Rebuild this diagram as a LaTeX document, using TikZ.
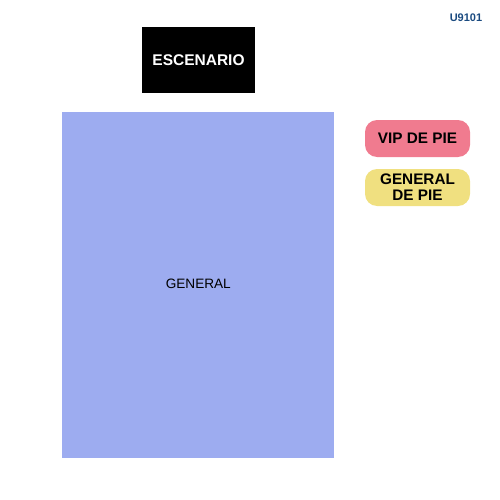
\documentclass[tikz,border=0pt]{standalone}
\usepackage{fontspec}
\setmainfont{Liberation Sans}
\usetikzlibrary{positioning}
\definecolor{zonablue}{RGB}{157,172,240}
\definecolor{vippink}{RGB}{240,123,143}
\definecolor{genyellow}{RGB}{240,224,128}
\definecolor{codeblue}{RGB}{26,74,128}

\begin{document}
\begin{tikzpicture}[x=1pt,y=-1pt,
	zona/.style={fill=zonablue,draw=none,minimum width=272pt,minimum height=346pt,inner sep=0pt},
	escena/.style={fill=black,text=white,font=\bfseries\fontsize{15.5}{16}\selectfont,minimum width=113pt,minimum height=66pt,inner sep=0pt},
	leyenda/.style={rounded corners=12pt,minimum width=105pt,minimum height=37pt,inner sep=0pt,align=center,font=\bfseries\fontsize{15.3}{16}\selectfont}]
	\useasboundingbox (0,0) rectangle (500,500);
	\node (U) at (466,18) {\textcolor{codeblue}{\bfseries\fontsize{11}{12}\selectfont U9101}};
	\node[escena] (E) at (198.5,60.5) {ESCENARIO};
	\node[zona] (G) at (198,285) {};
	\node[font=\fontsize{13.6}{14}\selectfont] (GL) at (198.3,284) {GENERAL};
	\node[leyenda,fill=vippink] (V) at (417.5,138.5) {VIP DE PIE};
	\node[leyenda,fill=genyellow] (GP) at (417.5,187.5) {GENERAL\\DE PIE};
	
	\end{tikzpicture}
\end{document}
